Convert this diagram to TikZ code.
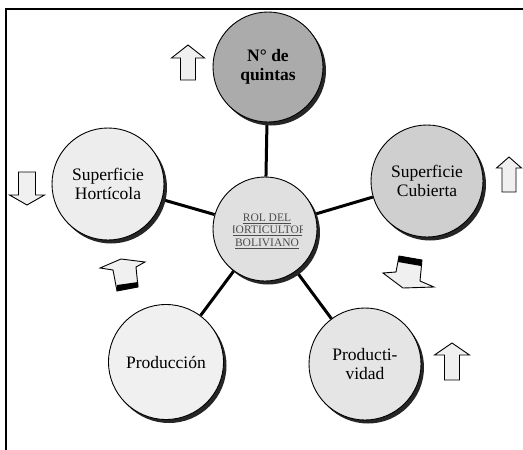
\documentclass[tikz,border=0pt]{standalone}
\usepackage{fontspec}
\setmainfont{Liberation Serif}
\usetikzlibrary{shadows}
\pgfdeclarelayer{bg}
\pgfsetlayers{bg,main}
\newcommand\bkarrup[6]{\draw[barr] (#1,#2) -- (#1+#4,#2+#6) -- (#1+#5,#2+#6) -- (#1+#5,#3) -- (#1-#5,#3) -- (#1-#5,#2+#6) -- (#1-#4,#2+#6) -- cycle;}
\newcommand\bkarrdn[6]{\draw[barr] (#1,#3) -- (#1+#4,#3-#6) -- (#1+#5,#3-#6) -- (#1+#5,#2) -- (#1-#5,#2) -- (#1-#5,#3-#6) -- (#1-#4,#3-#6) -- cycle;}
\begin{document}
\begin{tikzpicture}[x=1pt,y=-1pt,
  bub/.style={circle,draw=black,line width=0.9pt,minimum size=#1,inner sep=0pt,align=center,
    font=\fontsize{17.5}{19}\selectfont,
    drop shadow={shadow xshift=3pt,shadow yshift=-3.5pt,fill=black!85,opacity=1}},
  link/.style={line width=3pt},
  barr/.style={draw=black,line width=0.9pt,fill=black!6,line join=miter}]
\useasboundingbox (0,0) rectangle (523,450);
\draw[line width=1.2pt] (523,9) -- (6,9) -- (6,450);

\node[bub=110pt,fill=black!33] (q) at (268,67) {\textbf{N° de}\\\textbf{quintas}};
\node[bub=112pt,fill=black!7] (h) at (108,184) {Superficie\\Hortícola};
\node[bub=112pt,fill=black!19] (c) at (427,181) {Superficie\\Cubierta};
\node[bub=104pt,fill=black!12] (r) at (265,229) {};
\node[bub=115pt,fill=black!6] (p) at (166,362) {Producción};
\node[bub=112pt,fill=black!10] (v) at (365,364) {Producti-\\vidad};

\begin{scope}
\clip (233,200) rectangle (302,260);
\node[font=\fontsize{11.5}{12.5}\selectfont,text=black!70,align=center] (rt) at (267,231)
  {\underline{ROL DEL}\\\underline{HORTICULTOR}\\\underline{BOLIVIANO}};
\end{scope}

\begin{pgfonlayer}{bg}
\draw[link] (r) -- (q);
\draw[link] (r) -- (h);
\draw[link] (r) -- (c);
\draw[link] (r) -- (p);
\draw[link] (r) -- (v);
\end{pgfonlayer}

\bkarrup{188}{45}{80}{16.5}{7.5}{13}
\bkarrup{509}{157}{192}{12.5}{7}{11}
\bkarrup{452}{343}{380}{17.5}{7.5}{12}
\bkarrdn{27}{172}{205}{17.5}{8.5}{10}

\draw[barr] (100,268) -- (121,259) -- (145,262) -- (136,267) -- (138,287) -- (117,291) -- (113,270) -- cycle;
\fill (117,285) -- (138,282) -- (138,287) -- (117,291) -- cycle;
\draw[barr] (399,256) -- (422,260) -- (420,281) -- (434,287) -- (403,288) -- (383,273) -- (396,272) -- cycle;
\fill (399,256) -- (422,260) -- (421,266) -- (398,262) -- cycle;
\end{tikzpicture}
\end{document}
